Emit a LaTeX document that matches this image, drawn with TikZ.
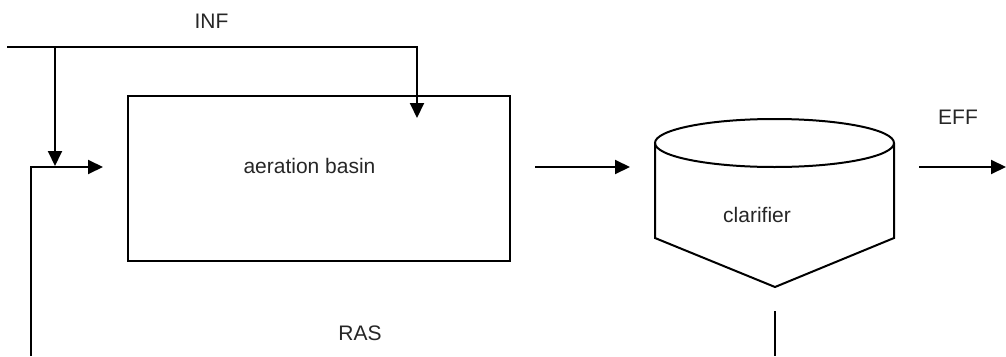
\documentclass[tikz,border=0pt]{standalone}
\usepackage{fontspec}
\setmainfont{Liberation Sans}
\usetikzlibrary{arrows.meta}
\begin{document}
\begin{tikzpicture}[x=1pt,y=-1pt, line width=2pt,
  flow/.style={-{Triangle[length=15pt,width=14pt]}},
  lbl/.style={font=\fontsize{21}{25}\selectfont, inner sep=0pt, text=black!85}]
\useasboundingbox (0,0) rectangle (1006,356);
% aeration basin
\node[draw, minimum width=382pt, minimum height=165pt, inner sep=0pt] (basin) at (319,178.5) {};
\node[lbl] (basintxt) at (309.5,166) {aeration basin};
% clarifier
\coordinate (clTL) at (655,143);
\coordinate (clBL) at (655,238);
\coordinate (clTip) at (775,287);
\coordinate (clBR) at (894,238);
\coordinate (clTR) at (894,143);
\draw (clTL) -- (clBL) -- (clTip) -- (clBR) -- (clTR);
\draw (774.5,143) ellipse [x radius=119.5, y radius=24];
\node[lbl] (cltxt) at (757,215) {clarifier};
% influent
\coordinate (infStart) at (7,47);
\coordinate (infSplit) at (55,47);
\coordinate (infCorner) at (417,47);
\coordinate (infEnd) at (417,118);
\coordinate (infEnd2) at (55,166);
\draw[flow] (infStart) -- (infCorner) -- (infEnd);
\draw[flow] (infSplit) -- (infEnd2);
\node[lbl] (inftxt) at (211.5,21) {INF};
% return line into basin
\coordinate (rasBot) at (31,356);
\coordinate (rasCorner) at (31,167);
\coordinate (rasEnd) at (103,167);
\draw[flow] (rasBot) -- (rasCorner) -- (rasEnd);
% basin to clarifier
\coordinate (bcStart) at (535,167);
\coordinate (bcEnd) at (630,167);
\draw[flow] (bcStart) -- (bcEnd);
% effluent
\coordinate (effStart) at (919,167);
\coordinate (effEnd) at (1006,167);
\draw[flow] (effStart) -- (effEnd);
\node[lbl] (efftxt) at (958,117.5) {EFF};
% underflow
\coordinate (ufTop) at (775,311);
\coordinate (ufBot) at (775,356);
\draw (ufTop) -- (ufBot);
\node[lbl] (rastxt) at (360,333) {RAS};
\end{tikzpicture}
\end{document}
